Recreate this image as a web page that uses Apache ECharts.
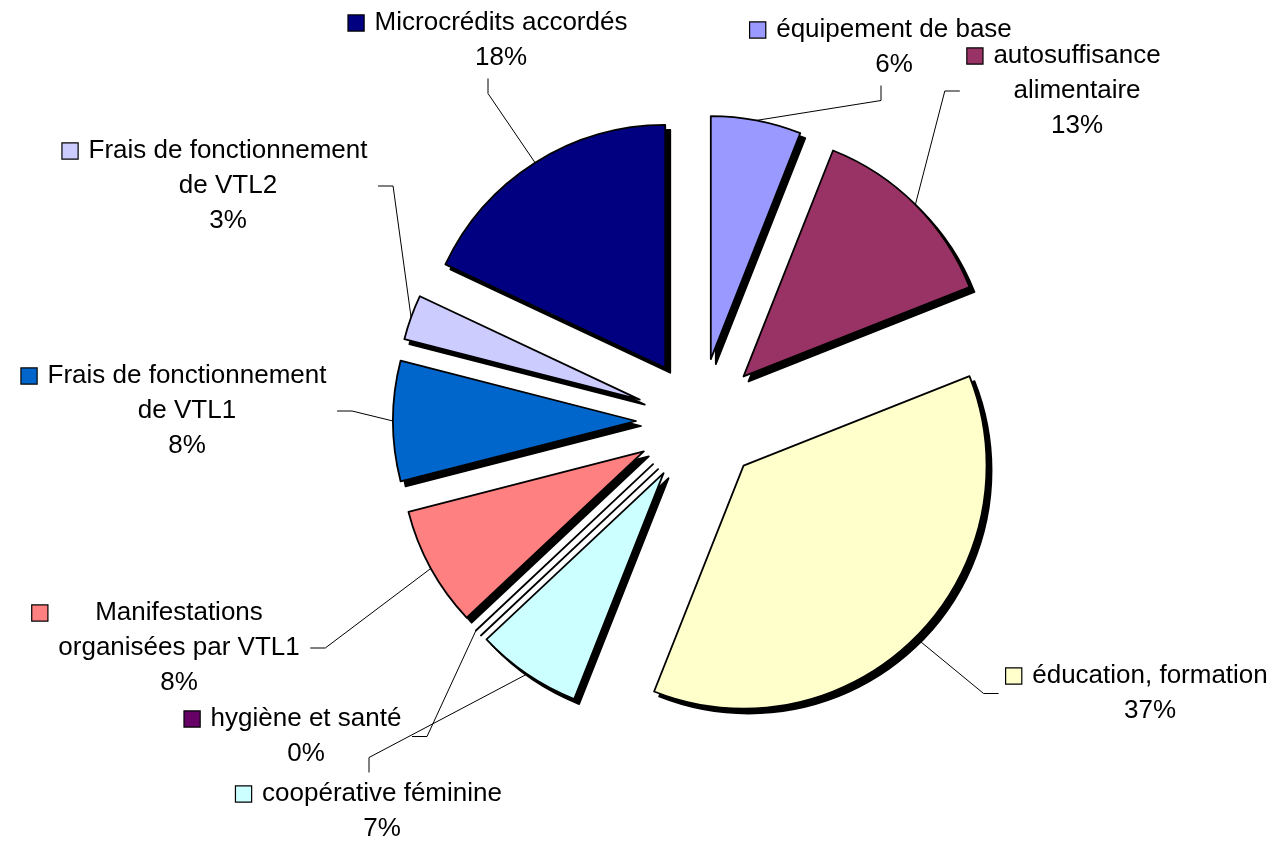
<!DOCTYPE html>
<html><head><meta charset="utf-8">
<script src="https://cdn.jsdelivr.net/npm/echarts@6/dist/echarts.min.js"></script>
<style>html,body{margin:0;padding:0;background:#fff}#c{width:1278px;height:843px}</style>
</head><body><div id="c"></div>
<script>
// ---- data ----
const categories = ['équipement de base', 'autosuffisance alimentaire', 'éducation, formation', 'coopérative féminine', 'hygiène et santé', 'Manifestations organisées par VTL1', 'Frais de fonctionnement de VTL1', 'Frais de fonctionnement de VTL2', 'Microcrédits accordés'];
const labelTextLines = [['équipement de base'], ['autosuffisance', 'alimentaire'], ['éducation, formation'], ['coopérative féminine'], ['hygiène et santé'], ['Manifestations', 'organisées par VTL1'], ['Frais de fonctionnement', 'de VTL1'], ['Frais de fonctionnement', 'de VTL2'], ['Microcrédits accordés']];
const shares = [6, 13, 37, 7, 0, 8, 8, 3, 18];

// ---- style / layout ----
const colors = ['#9999FF', '#993366', '#FFFFCC', '#CCFFFF', '#660066', '#FF8080', '#0066CC', '#CCCCFF', '#000080'];
// label text-block centre x and top y
const labelAnchors = [[894, 12.5], [1077, 38.5], [1150, 658.5], [382, 776.5], [306, 701.5], [179, 595.5], [187, 358.5], [228, 133.5], [501, 5.5]];
// which side of the label the leader line enters
const leaderSides = ['bottom', 'left', 'left', 'top', 'right', 'right', 'right', 'right', 'bottom'];
const FONT = '"Liberation Sans", Arial, sans-serif';
const FS = 26, LH = 35, BOX = 15, GAP = 11, LEN2 = 15;

const rich = {
  g: { width: GAP, align: 'left', height: 10 },
  s: { width: BOX + GAP, align: 'left', height: 10 },
  r: { width: BOX + GAP, align: 'right', height: 10 },
  t: { fontFamily: FONT, fontSize: FS, lineHeight: LH, color: '#000', align: 'center' }
};
colors.forEach((c, i) => {
  rich['k' + i] = { width: BOX, height: BOX, backgroundColor: c, borderColor: '#000', borderWidth: 1.2, align: 'left' };
});

function fmt(p) {
  const lines = labelTextLines[p.dataIndex];
  const out = [];
  lines.forEach((l, j) => {
    out.push((j === 0 ? '{k' + p.dataIndex + '|}{g|}' : '{s|}') + '{t|' + l + '}{r|}');
  });
  out.push('{s|}{t|' + Math.round(p.percent) + '%}{r|}');
  return out.join('\n');
}

const CENTER = [699, 421], R = 243, OFFSET = 63, SH = 5;
const PAD = BOX + GAP;

function layoutLabel(p) {
  const i = p.dataIndex;
  const a = labelAnchors[i];
  const w = p.labelRect.width, h = p.labelRect.height;
  const left = a[0] - w / 2, right = a[0] + w / 2, top = a[1], bottom = a[1] + h;
  const start = p.labelLinePoints ? p.labelLinePoints[0] : [a[0], a[1]];
  let end, bend;
  switch (leaderSides[i]) {
    case 'bottom': end = [a[0] - PAD / 2, bottom + 3]; bend = [end[0], end[1] + LEN2]; break;
    case 'top': end = [a[0] - PAD / 2, top - 4]; bend = [end[0], end[1] - LEN2]; break;
    case 'left': end = [left - 7, top + h / 2]; bend = [end[0] - LEN2, end[1]]; break;
    default: end = [right - PAD + 10, top + h / 2]; bend = [end[0] + LEN2, end[1]];
  }
  return { x: a[0], y: a[1], align: 'center', verticalAlign: 'top', labelLinePoints: [start, bend, end] };
}

const chart = echarts.init(document.getElementById('c'), null, { renderer: 'canvas' });
chart.setOption({
  animation: false,
  backgroundColor: '#fff',
  series: [
    {
      // drop shadow of every exploded slice
      type: 'pie', name: 'shadow', silent: true, z: 1,
      center: [CENTER[0] + SH, CENTER[1] + SH], radius: R,
      startAngle: 90, clockwise: true,
      selectedMode: 'multiple', selectedOffset: OFFSET,
      avoidLabelOverlap: false,
      label: { show: false }, labelLine: { show: false },
      emphasis: { disabled: true },
      itemStyle: { color: '#000', borderColor: '#000', borderWidth: 1.8 },
      data: shares.map((v, i) => ({ value: v, name: categories[i], selected: true }))
    },
    {
      // exploded slices
      type: 'pie', name: 'main', z: 2, silent: true,
      center: CENTER, radius: R,
      startAngle: 90, clockwise: true,
      selectedMode: 'multiple', selectedOffset: OFFSET,
      avoidLabelOverlap: false,
      emphasis: { disabled: true },
      itemStyle: { borderColor: '#000', borderWidth: 1.8 },
      label: { show: false }, labelLine: { show: false },
      data: shares.map((v, i) => ({ value: v, name: categories[i], selected: true, itemStyle: { color: colors[i] } }))
    },
    {
      // labels: invisible pie whose outer arc passes through the exploded slices' arc midpoints
      type: 'pie', name: 'labels', z: 3, silent: true,
      center: CENTER, radius: R + OFFSET,
      startAngle: 90, clockwise: true,
      avoidLabelOverlap: false, minShowLabelAngle: 0,
      emphasis: { disabled: true },
      itemStyle: { color: 'rgba(0,0,0,0)', borderWidth: 0 },
      label: {
        show: true, position: 'outside', formatter: fmt, rich: rich,
        fontFamily: FONT, fontSize: FS, lineHeight: LH, color: '#000'
      },
      labelLine: { show: true, length: 20, length2: LEN2, smooth: false, minTurnAngle: 0, lineStyle: { color: '#000', width: 1 } },
      labelLayout: layoutLabel,
      data: shares.map((v, i) => ({ value: v, name: categories[i] }))
    }
  ]
});
</script>
</body></html>
